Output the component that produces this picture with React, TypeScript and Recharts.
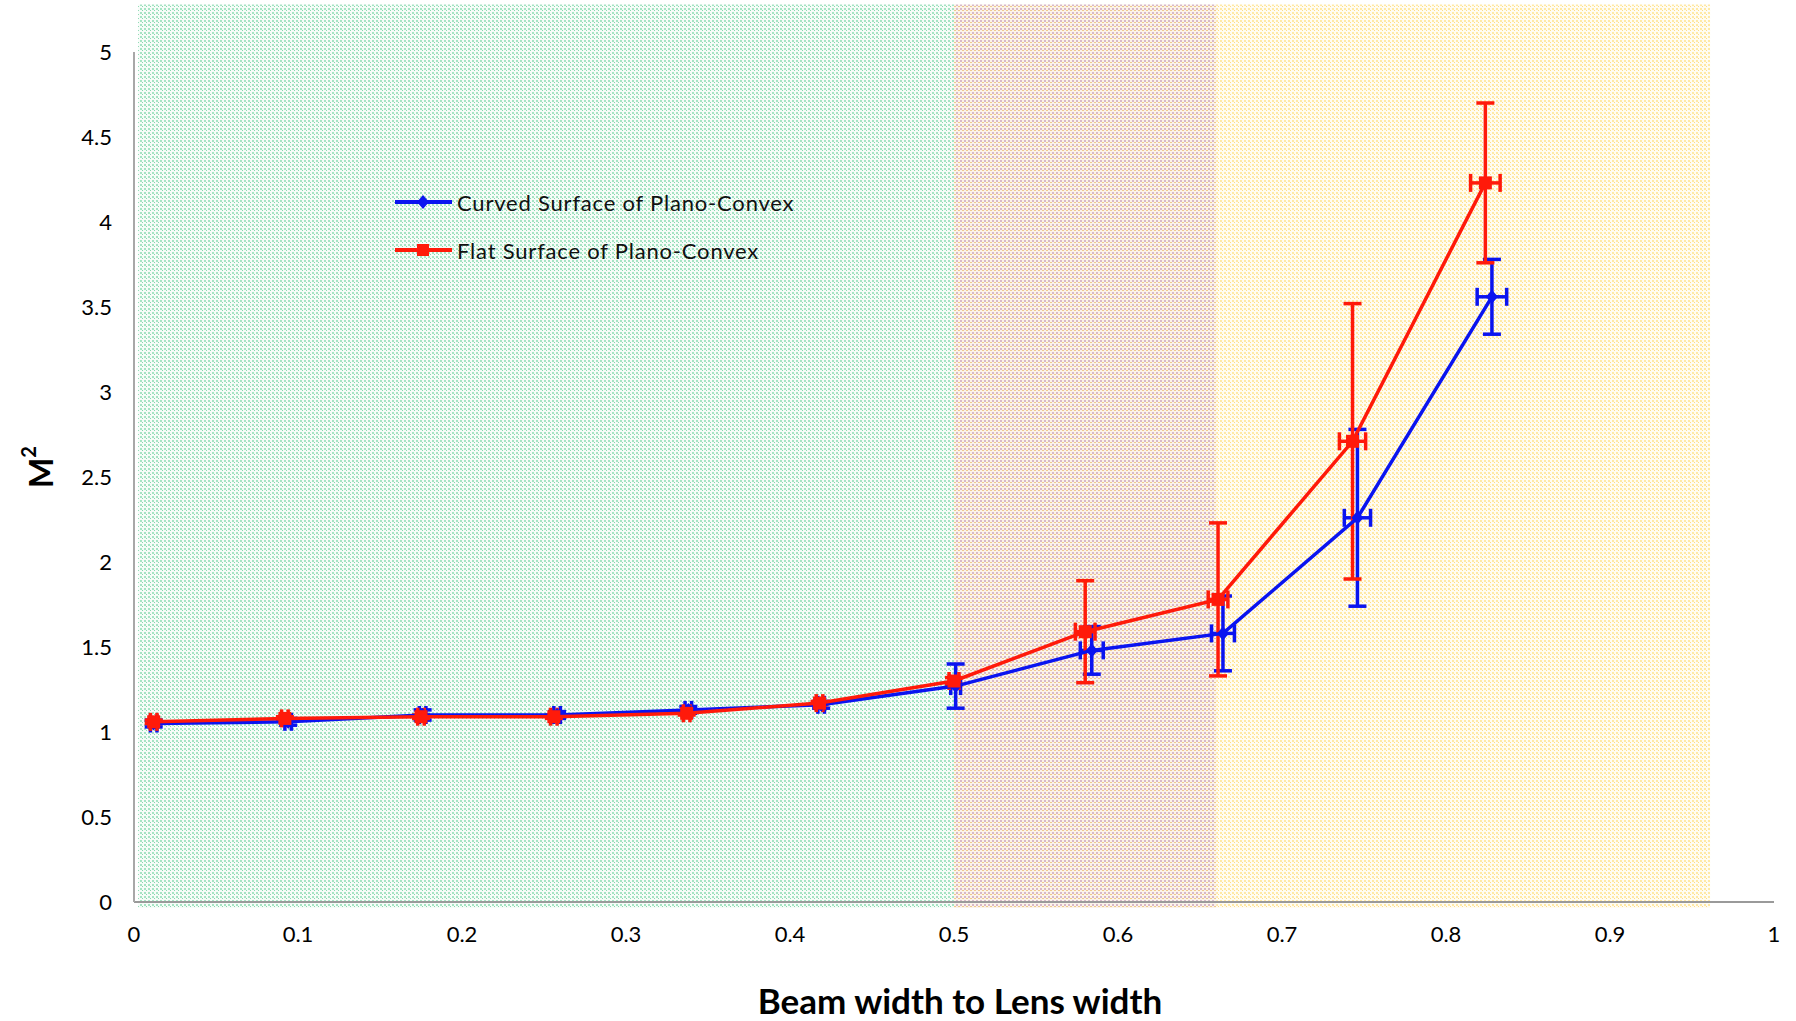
import {
  ErrorBar,
  ReferenceArea,
  Scatter,
  ScatterChart,
  XAxis,
  YAxis,
} from "recharts";

const curvedX = [0.012, 0.094, 0.176, 0.258, 0.338, 0.419, 0.501, 0.584, 0.664, 0.746, 0.828];
const curvedY = [1.05, 1.06, 1.1, 1.1, 1.13, 1.16, 1.27, 1.48, 1.58, 2.26, 3.56];
const curvedErrY = [0.02, 0.02, 0.03, 0.02, 0.02, 0.02, 0.13, 0.14, 0.22, 0.52, 0.22];
const curvedErrX = [0.002, 0.002, 0.002, 0.002, 0.002, 0.002, 0.003, 0.007, 0.007, 0.008, 0.009];

const flatX = [0.012, 0.092, 0.175, 0.256, 0.337, 0.418, 0.5, 0.58, 0.661, 0.743, 0.824];
const flatY = [1.06, 1.08, 1.09, 1.09, 1.11, 1.17, 1.3, 1.59, 1.78, 2.71, 4.23];
const flatErrY = [0.01, 0.01, 0.01, 0.01, 0.01, 0.01, 0.02, 0.3, 0.45, 0.81, 0.47];
const flatErrX = [0.002, 0.002, 0.002, 0.002, 0.002, 0.002, 0.003, 0.006, 0.006, 0.008, 0.009];

const xTicks = [0, 0.1, 0.2, 0.3, 0.4, 0.5, 0.6, 0.7, 0.8, 0.9, 1];
const yTicks = [0, 0.5, 1, 1.5, 2, 2.5, 3, 3.5, 4, 4.5, 5];

// shaded regions along the x axis
const zoneEdges = [0.0025, 0.5, 0.66, 0.961];

const curvedData = curvedX.map((x, i) => ({ x, y: curvedY[i], ex: curvedErrX[i], ey: curvedErrY[i] }));
const flatData = flatX.map((x, i) => ({ x, y: flatY[i], ex: flatErrX[i], ey: flatErrY[i] }));

const FONT = "Lato, 'Open Sans', sans-serif";
const BLUE = "#0a14f0";
const RED = "#ff1a0a";

const Diamond = (props: any) => {
  const { cx, cy } = props;
  if (cx == null || cy == null) return null;
  return <path d={`M${cx},${cy - 7} L${cx + 6},${cy} L${cx},${cy + 7} L${cx - 6},${cy} Z`} fill={BLUE} />;
};

const Square = (props: any) => {
  const { cx, cy } = props;
  if (cx == null || cy == null) return null;
  return <rect x={cx - 6.5} y={cy - 6.5} width={13} height={13} fill={RED} />;
};

const legendItems = [
  { label: "Curved Surface of Plano-Convex", color: BLUE, marker: "diamond" },
  { label: "Flat Surface of Plano-Convex", color: RED, marker: "square" },
];

const LegendBox = () => (
  <div
    style={{
      position: "absolute",
      left: 395,
      top: 178,
      fontFamily: FONT,
      fontSize: 22,
      color: "#111",
      letterSpacing: 0.8,
    }}
  >
    {legendItems.map((it) => (
      <div key={it.label} style={{ display: "flex", alignItems: "center", height: 48 }}>
        <svg width={62} height={20}>
          <line x1={0} y1={10} x2={57} y2={10} stroke={it.color} strokeWidth={4} />
          {it.marker === "diamond" ? (
            <path d="M28,3 L34,10 L28,17 L22,10 Z" fill={it.color} />
          ) : (
            <rect x={22} y={4} width={12} height={12} fill={it.color} />
          )}
        </svg>
        <span>{it.label}</span>
      </div>
    ))}
  </div>
);

const YLabel = () => {
  const x = 40;
  const y = 467;
  return (
    <text
      x={x}
      y={y}
      transform={`rotate(-90 ${x} ${y})`}
      textAnchor="middle"
      dominantBaseline="central"
      fontFamily={FONT}
      fontWeight="bold"
      fontSize={32}
      fill="#000"
    >
      M<tspan dy={-12} fontSize={20}>2</tspan>
    </text>
  );
};

const XLabel = () => (
  <text
    x={960}
    y={1000}
    textAnchor="middle"
    dominantBaseline="central"
    fontFamily={FONT}
    fontWeight="bold"
    fontSize={35}
    fill="#000"
  >
    Beam width to Lens width
  </text>
);

export default function App() {
  return (
    <div style={{ position: "absolute", left: 0, top: 0, width: 1796, height: 1021, background: "#fff" }}>
      <ScatterChart width={1796} height={1021} margin={{ top: 52, right: 22, left: 0, bottom: 0 }}>
        <defs>
          <pattern id="greenDots" width={4} height={4} patternUnits="userSpaceOnUse">
            <rect width={4} height={4} fill="#f6fcf8" />
            <rect x={0} y={0} width={2} height={2} fill="#a6e4c4" />
            <rect x={2} y={2} width={1} height={1} fill="#86d8ae" />
          </pattern>
          <pattern id="brownDots" width={4} height={4} patternUnits="userSpaceOnUse">
            <rect width={4} height={4} fill="#fbf3ea" />
            <rect x={0} y={0} width={2} height={2} fill="#d8b8c8" />
            <rect x={2} y={2} width={2} height={1} fill="#efc98c" />
          </pattern>
          <pattern id="yellowDots" width={4} height={4} patternUnits="userSpaceOnUse">
            <rect width={4} height={4} fill="#fffcf2" />
            <rect x={0} y={0} width={2} height={2} fill="#ffe9a6" />
            <rect x={2} y={2} width={1} height={1} fill="#ffdd84" />
          </pattern>
        </defs>
        <ReferenceArea x1={zoneEdges[0]} x2={zoneEdges[1]} y1={-0.035} y2={5.28} ifOverflow="visible" fill="url(#greenDots)" fillOpacity={1} />
        <ReferenceArea x1={zoneEdges[1]} x2={zoneEdges[2]} y1={-0.035} y2={5.28} ifOverflow="visible" fill="url(#brownDots)" fillOpacity={1} />
        <ReferenceArea x1={zoneEdges[2]} x2={zoneEdges[3]} y1={-0.035} y2={5.28} ifOverflow="visible" fill="url(#yellowDots)" fillOpacity={1} />
        <XAxis
          type="number"
          dataKey="x"
          domain={[0, 1]}
          ticks={xTicks}
          interval={0}
          height={119}
          axisLine={{ stroke: "#9a9a9a", strokeWidth: 2 }}
          tickLine={false}
          tickSize={0}
          tickMargin={24}
          tick={{ fontSize: 22, fill: "#000", fontFamily: FONT }}
          label={{ content: <XLabel /> }}
        />
        <YAxis
          type="number"
          dataKey="y"
          domain={[0, 5]}
          ticks={yTicks}
          interval={0}
          width={134}
          axisLine={{ stroke: "#a8a8a8", strokeWidth: 2 }}
          tickLine={false}
          tickSize={0}
          tickMargin={22}
          tick={{ fontSize: 22, fill: "#000", fontFamily: FONT }}
          label={{ content: <YLabel /> }}
        />
        <Scatter
          name="Curved Surface of Plano-Convex"
          data={curvedData}
          line={{ stroke: BLUE, strokeWidth: 3.5 }}
          lineType="joint"
          shape={<Diamond />}
          isAnimationActive={false}
        >
          <ErrorBar dataKey="ey" direction="y" width={9} stroke={BLUE} strokeWidth={3.5} isAnimationActive={false} />
          <ErrorBar dataKey="ex" direction="x" width={9} stroke={BLUE} strokeWidth={3.5} isAnimationActive={false} />
        </Scatter>
        <Scatter
          name="Flat Surface of Plano-Convex"
          data={flatData}
          line={{ stroke: RED, strokeWidth: 3.5 }}
          lineType="joint"
          shape={<Square />}
          isAnimationActive={false}
        >
          <ErrorBar dataKey="ey" direction="y" width={9} stroke={RED} strokeWidth={3.5} isAnimationActive={false} />
          <ErrorBar dataKey="ex" direction="x" width={9} stroke={RED} strokeWidth={3.5} isAnimationActive={false} />
        </Scatter>
      </ScatterChart>
      <LegendBox />
    </div>
  );
}
